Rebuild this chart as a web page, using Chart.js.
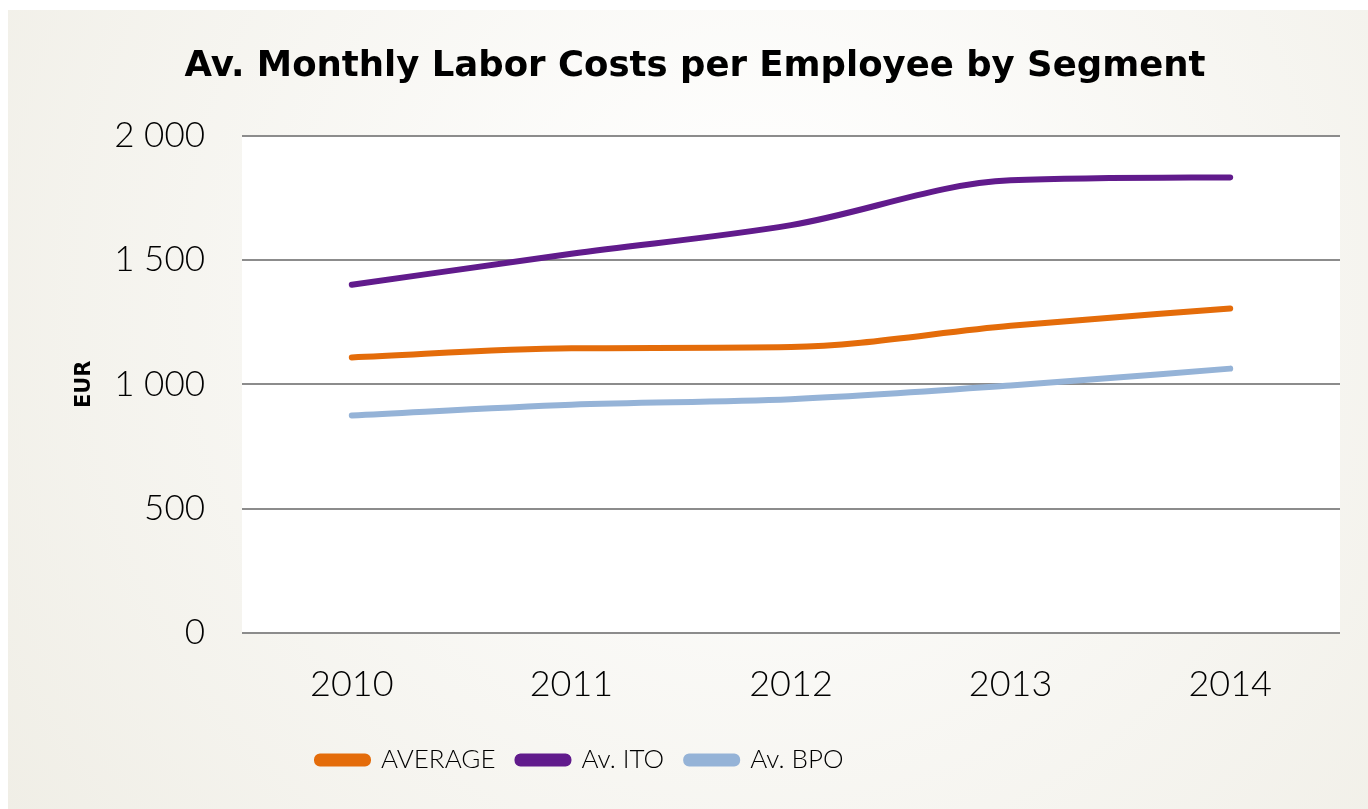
<!DOCTYPE html>
<html>
<head>
<meta charset="utf-8">
<script src="https://cdn.jsdelivr.net/npm/chart.js@4"></script>
<style>
  html, body { margin: 0; padding: 0; background: #fff; }
  #wrap { position: absolute; left: 8px; top: 10px; width: 1360px; height: 799px; }
</style>
</head>
<body>
<div id="wrap"><canvas id="chart"></canvas></div>
<script>
// données
const years = ['2010', '2011', '2012', '2013', '2014'];
const average = [1108, 1145, 1150, 1235, 1305];
const avITO = [1400, 1525, 1640, 1820, 1832];
const avBPO = [875, 918, 940, 995, 1063];
const yTicks = [0, 500, 1000, 1500, 2000];

const fontLight = "Lato, 'Open Sans', sans-serif";
const legendStart = 309; // début de la légende (comme sur l'original, décalée à gauche)

// fond dégradé + zone de tracé blanche
const backgroundPlugin = {
  id: 'background',
  beforeDraw(chart) {
    const { ctx, width, height, chartArea } = chart;
    const g = ctx.createRadialGradient(width * 0.55, height * 0.35, 50, width * 0.55, height * 0.35, width * 0.75);
    g.addColorStop(0, '#ffffff');
    g.addColorStop(1, '#eeece3');
    ctx.save();
    ctx.fillStyle = g;
    ctx.fillRect(0, 0, width, height);
    ctx.fillStyle = '#ffffff';
    ctx.fillRect(chartArea.left, chartArea.top, chartArea.right - chartArea.left, chartArea.bottom - chartArea.top);
    ctx.restore();
  }
};

// décaler la légende
const legendShift = {
  id: 'legendShift',
  afterLayout(chart) {
    const pad = chart.options.plugins.legend.labels.padding;
    chart.legend.left = legendStart - pad;
  }
};

function serie(label, data, color) {
  return {
    label: label,
    data: data,
    borderColor: color,
    backgroundColor: color,
    borderWidth: 6,
    borderCapStyle: 'round',
    pointRadius: 0,
    tension: 0.25,
    cubicInterpolationMode: 'monotone',
    fill: false
  };
}

new Chart(document.getElementById('chart'), {
  type: 'line',
  data: {
    labels: years,
    datasets: [
      serie('AVERAGE', average, '#e46c0a'),
      serie('Av. ITO', avITO, '#611b8c'),
      serie('Av. BPO', avBPO, '#95b3d7')
    ]
  },
  options: {
    responsive: true,
    maintainAspectRatio: false,
    animation: false,
    layout: { padding: { left: 42, right: 28, top: 0, bottom: 26 } },
    plugins: {
      title: {
        display: true,
        text: 'Av. Monthly Labor Costs per Employee by Segment',
        color: '#000',
        font: { family: "'DejaVu Sans', sans-serif", size: 35.5, weight: 'bold' },
        padding: { top: 35, bottom: 48 }
      },
      legend: {
        position: 'bottom',
        align: 'start',
        labels: {
          color: '#000',
          font: { family: fontLight, size: 26, weight: '300' },
          boxWidth: 51,
          boxHeight: 7,
          useBorderRadius: true,
          borderRadius: 3,
          padding: 22
        }
      },
      tooltip: { enabled: false }
    },
    scales: {
      x: {
        offset: true,
        grid: { display: false },
        border: { display: false },
        ticks: {
          color: '#000',
          font: { family: fontLight, size: 36, weight: '300' },
          padding: 22
        },
        afterFit(scale) { scale.height = 92; }
      },
      y: {
        min: 0,
        max: 2000,
        afterBuildTicks(scale) { scale.ticks = yTicks.map(v => ({ value: v })); },
        grid: { color: '#8c8c8c', lineWidth: 2, drawTicks: false },
        border: { display: false },
        ticks: {
          color: '#000',
          font: { family: fontLight, size: 35, weight: '300' },
          padding: 37,
          callback: v => String(v).replace(/\B(?=(\d{3})+(?!\d))/g, ' ')
        },
        title: {
          display: true,
          text: 'EUR',
          color: '#000',
          font: { family: "'DejaVu Sans', sans-serif", size: 21, weight: 'bold' },
          padding: { top: 22, bottom: 0 }
        },
        afterFit(scale) { scale.width = 192; }
      }
    }
  },
  plugins: [backgroundPlugin, legendShift]
});
</script>
</body>
</html>
